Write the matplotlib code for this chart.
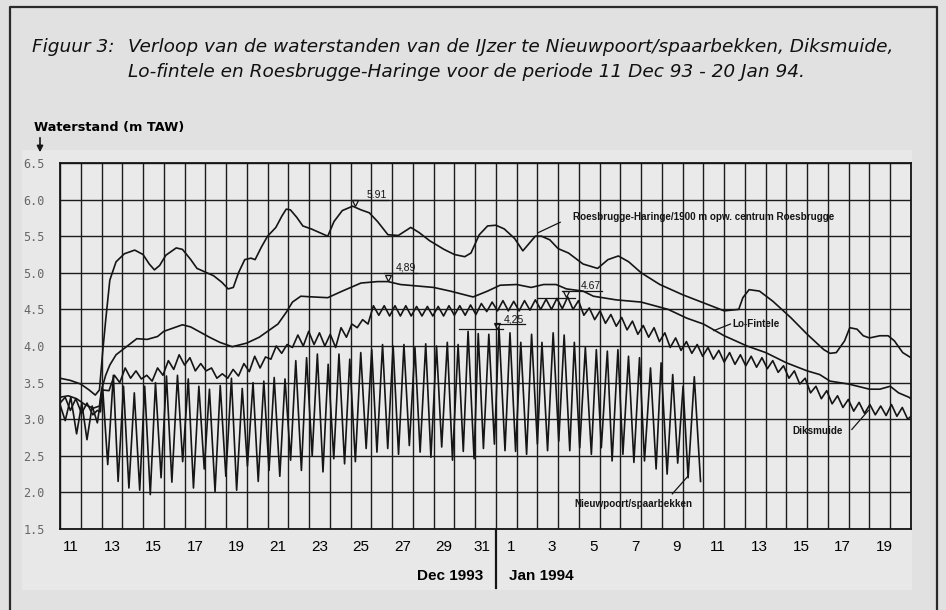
import matplotlib
matplotlib.use("Agg")
import matplotlib.pyplot as plt

plt.rcParams["font.family"] = ["Liberation Sans", "DejaVu Sans"]

# time axis: days since 11 Dec 1993 00:00 (0 .. 41 = 21 Jan 1994 00:00)
roes_t = [0.0, 0.5, 1.0, 1.4, 1.7, 1.9, 2.05, 2.2, 2.4, 2.7, 3.1, 3.6, 4.0, 4.3, 4.55,
          4.8, 5.1, 5.6, 5.9, 6.3, 6.6, 7.0, 7.4, 7.8, 8.1, 8.35, 8.6, 8.9, 9.2, 9.4,
          9.7, 10.0, 10.4, 10.7, 10.9, 11.1, 11.4, 11.7, 12.1, 12.5, 12.9, 13.2, 13.6,
          14.1, 14.5, 14.9, 15.3, 15.8, 16.3, 16.9, 17.3, 17.8, 18.5, 19.0, 19.5, 19.8,
          20.2, 20.6, 21.0, 21.4, 21.9, 22.3, 22.6, 22.9, 23.2, 23.6, 24.0, 24.5, 25.2,
          25.9, 26.4, 26.9, 27.4, 28.0, 28.9, 30.0, 31.0, 32.0, 32.7, 32.9, 33.2, 33.7,
          34.35, 35.2, 36.0, 36.8, 37.1, 37.4, 37.8, 38.05, 38.4, 38.7, 39.0, 39.5,
          39.9, 40.2, 40.6, 41.0]
roes_v = [3.56, 3.53, 3.48, 3.40, 3.33, 3.40, 3.90, 4.35, 4.90, 5.15, 5.26, 5.31, 5.25,
          5.12, 5.04, 5.10, 5.24, 5.34, 5.32, 5.18, 5.06, 5.01, 4.96, 4.87, 4.78, 4.80,
          5.00, 5.18, 5.20, 5.18, 5.35, 5.50, 5.62, 5.78, 5.87, 5.86, 5.76, 5.64, 5.60,
          5.55, 5.50, 5.70, 5.85, 5.91, 5.86, 5.82, 5.70, 5.52, 5.51, 5.62, 5.55, 5.44,
          5.32, 5.25, 5.22, 5.27, 5.52, 5.64, 5.65, 5.60, 5.47, 5.30, 5.40, 5.50, 5.50,
          5.45, 5.33, 5.27, 5.12, 5.06, 5.18, 5.23, 5.15, 5.00, 4.84, 4.70, 4.59, 4.48,
          4.50, 4.66, 4.77, 4.75, 4.61, 4.39, 4.16, 3.95, 3.90, 3.91, 4.07, 4.25, 4.23,
          4.14, 4.11, 4.14, 4.14, 4.07, 3.91, 3.84]

lofi_t = [0.0, 0.4, 0.8, 1.2, 1.6, 1.9, 2.0, 2.2, 2.4, 2.7, 3.2, 3.7, 4.2, 4.7, 5.0,
          5.5, 5.9, 6.3, 6.75, 7.2, 7.7, 8.3, 9.0, 9.6, 10.5, 10.9, 11.2, 11.6, 12.2,
          12.9, 13.6, 14.5, 15.3, 15.8, 16.4, 17.2, 18.0, 18.8, 19.9, 20.6, 21.2, 22.0,
          22.7, 23.3, 23.9, 24.4, 25.2, 25.7, 26.8, 28.0, 29.3, 30.2, 31.0, 32.0, 33.1,
          34.0, 35.0, 36.0, 36.6, 37.1, 38.0, 39.0, 39.5, 40.0, 40.4, 40.9, 41.0]
lofi_v = [3.30, 3.32, 3.28, 3.20, 3.15, 3.18, 3.40, 3.60, 3.74, 3.88, 3.99, 4.10, 4.09,
          4.13, 4.20, 4.25, 4.29, 4.26, 4.19, 4.12, 4.05, 3.99, 4.04, 4.12, 4.30, 4.46,
          4.60, 4.68, 4.67, 4.66, 4.75, 4.86, 4.88, 4.88, 4.84, 4.82, 4.80, 4.75, 4.67,
          4.75, 4.83, 4.84, 4.80, 4.84, 4.84, 4.78, 4.75, 4.68, 4.63, 4.60, 4.50, 4.38,
          4.30, 4.14, 4.00, 3.91, 3.77, 3.66, 3.61, 3.52, 3.48, 3.41, 3.41, 3.45, 3.36,
          3.30, 3.28]

# Diksmuide: turning points of the tidal sawtooth
dik_t = [0.00, 0.25, 0.50, 0.76, 1.04, 1.30, 1.58, 1.80, 1.95, 2.02, 2.36,
         2.62, 2.88, 3.14, 3.40, 3.66, 3.92, 4.18, 4.44, 4.70, 4.96, 5.22, 5.48,
         5.74, 6.00, 6.26, 6.52, 6.78, 7.04, 7.30, 7.56, 7.82, 8.08, 8.34, 8.60,
         8.86, 9.12, 9.38, 9.64, 9.90, 10.16, 10.42, 10.68, 10.94, 11.20, 11.46,
         11.72, 11.98, 12.24, 12.50, 12.76, 13.02, 13.28, 13.54, 13.80, 14.06,
         14.32, 14.58, 14.84, 15.10, 15.36, 15.62, 15.88, 16.14, 16.40, 16.66,
         16.92, 17.18, 17.44, 17.70, 17.96, 18.22, 18.48, 18.74, 19.00, 19.26,
         19.52, 19.78, 20.04, 20.30, 20.56, 20.82, 21.08, 21.34, 21.60, 21.86,
         22.12, 22.38, 22.64, 22.90, 23.16, 23.42, 23.68, 23.94, 24.20, 24.46,
         24.72, 24.98, 25.24, 25.50, 25.76, 26.02, 26.28, 26.54, 26.80, 27.06,
         27.32, 27.58, 27.84, 28.10, 28.36, 28.62, 28.88, 29.14, 29.40, 29.66,
         29.92, 30.18, 30.44, 30.70, 30.96, 31.22, 31.48, 31.74, 32.00, 32.26,
         32.52, 32.78, 33.04, 33.30, 33.56, 33.82, 34.08, 34.34, 34.60, 34.86,
         35.12, 35.38, 35.64, 35.90, 36.16, 36.42, 36.68, 36.94, 37.20, 37.46,
         37.72, 37.98, 38.24, 38.50, 38.76, 39.02, 39.28, 39.54, 39.80, 40.06,
         40.32, 40.58, 40.84, 41.00]
dik_v = [3.22, 3.30, 3.12, 3.28, 3.08, 3.22, 3.06, 3.12, 3.10, 3.40, 3.39,
         3.60, 3.50, 3.70, 3.56, 3.66, 3.55, 3.60, 3.52, 3.70, 3.60, 3.80, 3.68,
         3.88, 3.74, 3.84, 3.66, 3.76, 3.66, 3.70, 3.56, 3.62, 3.56, 3.68, 3.59,
         3.76, 3.65, 3.86, 3.70, 3.85, 3.82, 4.00, 3.90, 4.02, 3.98, 4.15,
         4.00, 4.20, 4.02, 4.18, 4.00, 4.16, 3.98, 4.25, 4.12, 4.30,
         4.25, 4.36, 4.30, 4.55, 4.42, 4.55, 4.41, 4.55, 4.41, 4.55,
         4.41, 4.54, 4.41, 4.54, 4.41, 4.54, 4.41, 4.55, 4.42, 4.55,
         4.42, 4.56, 4.43, 4.58, 4.47, 4.60, 4.48, 4.62, 4.48, 4.61,
         4.48, 4.62, 4.49, 4.63, 4.50, 4.64, 4.50, 4.65, 4.51, 4.67,
         4.50, 4.62, 4.42, 4.52, 4.36, 4.48, 4.31, 4.43, 4.27, 4.39,
         4.22, 4.34, 4.16, 4.28, 4.12, 4.25, 4.06, 4.18, 3.98, 4.11,
         3.94, 4.06, 3.90, 4.02, 3.86, 3.98, 3.82, 3.94, 3.78, 3.91,
         3.75, 3.88, 3.73, 3.86, 3.71, 3.84, 3.69, 3.80, 3.64, 3.73,
         3.56, 3.66, 3.48, 3.56, 3.36, 3.45, 3.28, 3.39, 3.21, 3.32,
         3.16, 3.27, 3.11, 3.23, 3.08, 3.20, 3.06, 3.18, 3.05, 3.20,
         3.04, 3.16, 3.00, 3.04]

# Nieuwpoort/spaarbekken: high and low waters, in order
nieuw_t = [0.00, 0.25, 0.52, 0.80, 1.05, 1.30, 1.55, 1.80, 2.05,
           2.30, 2.57, 2.80, 3.06, 3.32, 3.58, 3.84, 4.08, 4.35, 4.60, 4.87, 5.13,
           5.39, 5.66, 5.91, 6.18, 6.43, 6.69, 6.95, 7.20, 7.47, 7.72, 7.99, 8.26,
           8.51, 8.78, 9.03, 9.30, 9.55, 9.82, 10.07, 10.32, 10.59, 10.84, 11.11,
           11.36, 11.63, 11.88, 12.15, 12.40, 12.67, 12.92, 13.19, 13.44, 13.71,
           13.96, 14.23, 14.49, 14.75, 15.02, 15.27, 15.54, 15.79, 16.05, 16.31,
           16.57, 16.83, 17.10, 17.35, 17.62, 17.87, 18.14, 18.39, 18.66, 18.91,
           19.18, 19.43, 19.66, 19.95, 20.15, 20.40, 20.66, 20.93, 21.15, 21.44,
           21.68, 21.95, 22.20, 22.48, 22.72, 23.00, 23.22, 23.49, 23.76, 24.03,
           24.29, 24.56, 24.78, 25.04, 25.31, 25.60, 25.84, 26.08, 26.37, 26.60,
           26.88, 27.12, 27.39, 27.65, 27.92, 28.16, 28.45, 28.72, 28.96, 29.25,
           29.52, 29.76, 30.02, 30.26, 30.56, 30.86]
nieuw_v = [3.20, 2.98, 3.30, 2.80, 3.22, 2.72, 3.18, 2.95, 3.45,
           2.38, 3.60, 2.15, 3.45, 2.06, 3.36, 2.03, 3.45, 1.97, 3.50, 2.20, 3.59,
           2.14, 3.60, 2.42, 3.55, 2.06, 3.45, 2.32, 3.41, 2.01, 3.46, 2.22, 3.56,
           2.03, 3.42, 2.36, 3.50, 2.15, 3.52, 2.30, 3.57, 2.22, 3.55, 2.44,
           3.80, 2.30, 3.84, 2.50, 3.89, 2.28, 3.75, 2.46, 3.89, 2.39,
           3.82, 2.42, 3.91, 2.60, 3.95, 2.55, 4.02, 2.60, 4.00, 2.52,
           4.02, 2.64, 3.98, 2.55, 4.03, 2.48, 4.00, 2.62, 4.05, 2.44,
           4.02, 2.56, 4.20, 2.46, 4.17, 2.60, 4.16, 2.66, 4.25, 2.57,
           4.18, 2.56, 4.05, 2.52, 4.16, 2.66, 4.05, 2.57, 4.18, 2.70,
           4.15, 2.57, 4.05, 2.61, 3.98, 2.52, 3.95, 2.61, 3.93, 2.43,
           3.95, 2.52, 3.86, 2.41, 3.84, 2.43, 3.70, 2.32, 3.77, 2.25,
           3.61, 2.40, 3.45, 2.20, 3.58, 2.15]

y_ticks = [1.5, 2.0, 2.5, 3.0, 3.5, 4.0, 4.5, 5.0, 5.5, 6.0, 6.5]
dec_days = [11, 13, 15, 17, 19, 21, 23, 25, 27, 29, 31]
jan_days = [1, 3, 5, 7, 9, 11, 13, 15, 17, 19]

INK = "#151515"
W, H = 946, 610
WIDE = ["DejaVu Sans"]

fig = plt.figure(figsize=(W / 100, H / 100), dpi=100, facecolor="#e1e1e1")

# page furniture in pixel coordinates
bg = fig.add_axes([0, 0, 1, 1], zorder=-1)
bg.set_xlim(0, W)
bg.set_ylim(H, 0)
bg.axis("off")
bg.add_patch(plt.Rectangle((22, 150), 890, 440, color="#e8e8e8", lw=0))
bg.plot([10, 10, 937, 937], [H, 7, 7, H], color="#2a2a2a", lw=1.6)
title_kw = dict(fontsize=13.3, style="italic", va="center", family=WIDE, color="#111111")
bg.text(32, 47, "Figuur 3:", **title_kw)
bg.text(128, 47, "Verloop van de waterstanden van de IJzer te Nieuwpoort/spaarbekken, Diksmuide,",
        **title_kw)
bg.text(128, 72, "Lo-fintele en Roesbrugge-Haringe voor de periode 11 Dec 93 - 20 Jan 94.",
        **title_kw)
bg.text(34, 127, "Waterstand (m TAW)", fontsize=9.3, weight="bold", va="center", family=WIDE)
bg.annotate("", xy=(40, 155), xytext=(40, 135),
            arrowprops=dict(arrowstyle="-|>", color=INK, lw=1.2, mutation_scale=9))
bg.plot([496, 496], [529, 588], color=INK, lw=1.6)
bg.text(450, 576, "Dec 1993", fontsize=11, weight="bold", ha="center", va="center")
bg.text(541, 576, "Jan 1994", fontsize=11, weight="bold", ha="center", va="center")

ax = fig.add_axes([60 / W, (H - 529) / H, 851 / W, 366 / H], facecolor="#eaeaea")
ax.set_xlim(0, 41)
ax.set_ylim(1.5, 6.5)

ax.set_xticks(range(42))
ax.set_xticklabels([])
lab_pos = [d - 11 + 0.5 for d in dec_days] + [21 + d - 1 + 0.7 for d in jan_days]
lab_pos[10] -= 0.15
lab_pos[11] += 0.05
ax.set_xticks(lab_pos, minor=True)
ax.set_xticklabels([str(d) for d in dec_days + jan_days], minor=True)
ax.tick_params(axis="x", which="both", length=0)
ax.tick_params(axis="x", which="minor", pad=8, labelsize=11)
ax.set_yticks(y_ticks)
ax.set_yticklabels([f"{v:.1f}" for v in y_ticks], family="DejaVu Sans Mono",
                   fontsize=8.5, color="#666666")
ax.tick_params(axis="y", length=0, pad=11)
ax.grid(True, which="major", color="#1c1c1c", lw=1.0)
for s in ax.spines.values():
    s.set_color(INK)
    s.set_linewidth(1.3)

lw = 1.2
ax.plot(roes_t, roes_v, color=INK, lw=lw)
ax.plot(lofi_t, lofi_v, color=INK, lw=lw)
ax.plot(dik_t, dik_v, color=INK, lw=lw)
ax.plot(nieuw_t, nieuw_v, color=INK, lw=lw)


def peak_mark(x, y, text, tx, ty, line_x0, line_x1, line_y):
    ax.plot([x], [y], marker="v", ms=4.5, mfc="none", mec=INK, mew=0.9)
    ax.plot([line_x0, line_x1], [line_y, line_y], color=INK, lw=0.9)
    ax.text(tx, ty, text, fontsize=7.5, va="bottom", color=INK)


peak_mark(14.2, 5.95, "5.91", 14.75, 6.0, 14.1, 15.8, 6.0)
peak_mark(15.8, 4.93, "4,89", 16.2, 5.0, 15.6, 17.2, 5.0)
peak_mark(21.04, 4.28, "4,25", 21.4, 4.3, 20.95, 22.4, 4.3)
ax.plot([19.2, 21.35], [4.23, 4.23], color=INK, lw=0.9)
peak_mark(24.4, 4.71, "4.67", 25.1, 4.75, 24.2, 26.1, 4.75)
ax.plot([23.0, 24.8], [4.65, 4.65], color=INK, lw=0.9)

lab = dict(fontsize=7.1, weight="bold", color=INK, va="center")
ax.text(24.7, 5.76, "Roesbrugge-Haringe/1900 m opw. centrum Roesbrugge", **lab)
ax.plot([23.05, 24.1], [5.55, 5.69], color=INK, lw=0.9)
ax.text(32.4, 4.30, "Lo-Fintele", **lab)
ax.plot([31.5, 32.3], [4.21, 4.30], color=INK, lw=0.9)
ax.text(35.3, 2.84, "Diksmuide", **lab)
ax.plot([38.15, 38.95], [2.86, 3.12], color=INK, lw=0.9)
ax.text(24.8, 1.84, "Nieuwpoort/spaarbekken", **lab)
ax.plot([29.5, 30.25], [1.98, 2.22], color=INK, lw=0.9)

fig.savefig("out.png", dpi=100, facecolor=fig.get_facecolor())
